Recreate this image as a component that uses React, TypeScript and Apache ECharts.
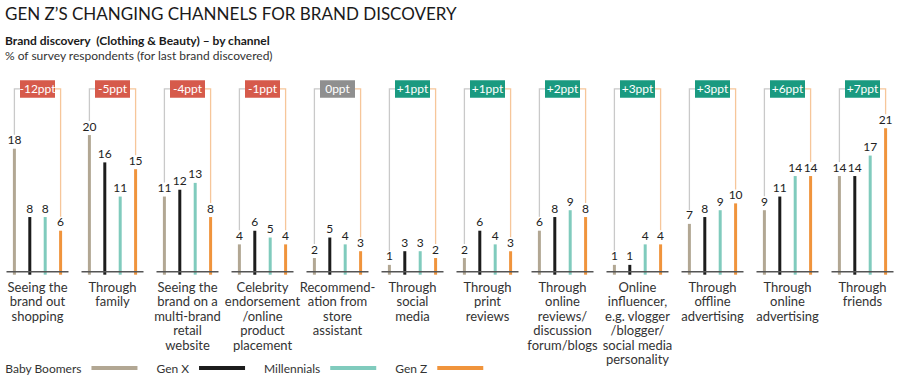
import React, { useEffect, useRef } from "react";
import * as echarts from "echarts";

const categories = [
  "Seeing the\nbrand out\nshopping",
  "Through\nfamily",
  "Seeing the\nbrand on a\nmulti-brand\nretail\nwebsite",
  "Celebrity\nendorsement\n/online\nproduct\nplacement",
  "Recommend-\nation from\nstore\nassistant",
  "Through\nsocial\nmedia",
  "Through\nprint\nreviews",
  "Through\nonline\nreviews/\ndiscussion\nforum/blogs",
  "Online\ninfluencer,\ne.g. vlogger\n/blogger/\nsocial media\npersonality",
  "Through\noffline\nadvertising",
  "Through\nonline\nadvertising",
  "Through\nfriends",
];
const babyBoomers = [18, 20, 11, 4, 2, 1, 2, 6, 1, 7, 9, 14];
const genX = [8, 16, 12, 6, 5, 3, 6, 8, 1, 8, 11, 14];
const millennials = [8, 11, 13, 5, 4, 3, 4, 9, 4, 9, 14, 17];
const genZ = [6, 15, 8, 4, 3, 2, 3, 8, 4, 10, 14, 21];
const changePpt = [-12, -5, -4, -1, 0, 1, 1, 2, 3, 3, 6, 7];

const seriesNames = ["Baby Boomers", "Gen X", "Millennials", "Gen Z"];
const seriesData = [babyBoomers, genX, millennials, genZ];
const colors = ["#b2a793", "#1c1c1c", "#80cbbd", "#f0943c"];

const FONT = "Lato, 'Noto Sans', sans-serif";
const BAR_W = 3;
const BAR_STEP = 15.4;
const BRACKET_LEVEL = 26.75;

export default function App() {
  const ref = useRef<HTMLDivElement>(null);
  useEffect(() => {
    document.body.style.margin = "0";
    const chart = echarts.init(ref.current!, null, { renderer: "svg" });
    const deco = categories.map((_, i) => [i, babyBoomers[i], genZ[i], changePpt[i]]);

    const renderItem = (params: any, api: any) => {
      const idx = api.value(0);
      const boomer = api.value(1);
      const z = api.value(2);
      const chg = api.value(3);
      const [cx, y0] = api.coord([idx, 0]);
      const topY = api.coord([idx, BRACKET_LEVEL])[1];
      const bY = api.coord([idx, boomer])[1] - 14;
      const zY = api.coord([idx, z])[1] - 14;
      const lx = cx - 1.5 * BAR_STEP;
      const rx = cx + 1.5 * BAR_STEP;
      const bw = 35;
      const bh = 17.4;
      const badgeColor = chg < 0 ? "#d65a4b" : chg > 0 ? "#1a9a80" : "#8f8f8f";
      const label = (chg > 0 ? "+" : "") + chg + "ppt";
      const children: any[] = [
        {
          type: "polyline",
          shape: { points: [[lx, bY], [lx, topY], [cx - bw / 2, topY]] },
          style: { stroke: "#c9c9c9", lineWidth: 1.3, fill: null },
        },
        {
          type: "polyline",
          shape: { points: [[cx + bw / 2, topY], [rx, topY], [rx, zY]] },
          style: { stroke: "#f6c69a", lineWidth: 1.3, fill: null },
        },
        {
          type: "rect",
          shape: { x: cx - bw / 2, y: topY - bh / 2, width: bw, height: bh },
          style: { fill: badgeColor },
        },
        {
          type: "text",
          x: cx,
          y: topY,
          style: {
            text: label,
            fill: "#ffffff",
            font: `12px ${FONT}`,
            align: "center",
            verticalAlign: "middle",
          },
        },
      ];
      for (let k = 0; k < 4; k++) {
        const bx = cx + (k - 1.5) * BAR_STEP;
        children.push({
          type: "rect",
          shape: { x: bx - BAR_W / 2, y: y0, width: BAR_W, height: 3 },
          style: { fill: colors[k] },
        });
      }
      children.push({
        type: "line",
        shape: { x1: cx - 31, y1: y0, x2: cx + 31, y2: y0 },
        style: { stroke: "#555555", lineWidth: 1.5 },
      });
      return { type: "group", children };
    };

    chart.setOption({
      animation: false,
      textStyle: { fontFamily: FONT },
      title: [
        {
          text: "GEN Z’S CHANGING CHANNELS FOR BRAND DISCOVERY",
          left: 5,
          top: 5,
          padding: 0,
          textStyle: { fontSize: 17, fontWeight: "normal", color: "#1a1a1a", fontFamily: FONT },
        },
        {
          text: "Brand discovery  (Clothing & Beauty) – by channel",
          left: 5,
          top: 34,
          padding: 0,
          textStyle: { fontSize: 12, fontWeight: "bold", color: "#1a1a1a", fontFamily: FONT },
        },
        {
          text: "% of survey respondents (for last brand discovered)",
          left: 5,
          top: 49,
          padding: 0,
          textStyle: { fontSize: 12, fontWeight: "normal", color: "#333333", fontFamily: FONT },
        },
      ],
      legend: {
        data: seriesNames,
        left: 5,
        top: 362,
        padding: 0,
        align: "right",
        icon: "rect",
        itemWidth: 46,
        itemHeight: 4,
        itemGap: 19,
        textStyle: { fontSize: 12, color: "#333333", fontFamily: FONT, padding: [0, 5, 0, 0] },
        selectedMode: false,
      },
      grid: { left: 0, right: 0, top: 80.4, bottom: 106.3, containLabel: false },
      xAxis: {
        type: "category",
        data: categories,
        axisLine: { show: false },
        axisTick: { show: false },
        axisLabel: {
          interval: 0,
          fontSize: 13,
          lineHeight: 14.5,
          color: "#333333",
          margin: 8,
          fontFamily: FONT,
        },
      },
      yAxis: {
        type: "value",
        min: 0,
        max: 28,
        show: false,
        splitLine: { show: false },
      },
      series: [
        ...seriesNames.map((name, k) => ({
          name,
          type: "bar",
          data: seriesData[k],
          barWidth: BAR_W,
          barGap: `${((BAR_STEP - BAR_W) / BAR_W) * 100}%`,
          itemStyle: { color: colors[k] },
          label: {
            show: true,
            position: "top",
            distance: 3,
            fontSize: 12,
            color: "#222222",
            fontFamily: FONT,
          },
        })),
        {
          type: "custom",
          renderItem,
          data: deco,
          encode: { x: 0, y: [1, 2] },
          z: 5,
          silent: true,
        },
      ],
    });
    return () => chart.dispose();
  }, []);
  return (
    <div
      ref={ref}
      style={{ position: "absolute", left: 0, top: 0, width: 900, height: 378 }}
    />
  );
}
